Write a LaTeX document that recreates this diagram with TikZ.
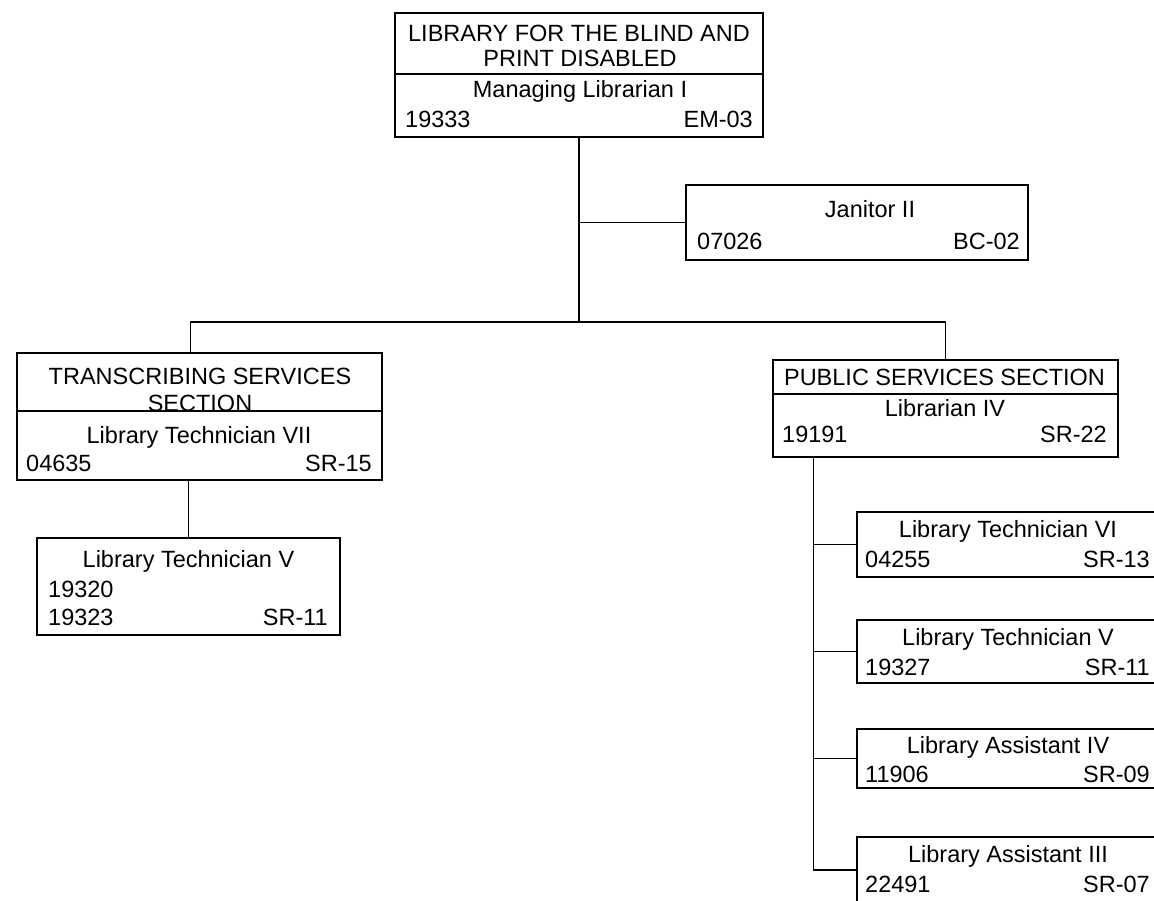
\documentclass[tikz,border=0pt]{standalone}
\usepackage{fontspec}
\setmainfont{Liberation Sans}
\begin{document}
\begin{tikzpicture}[x=1pt,y=-1pt,
  box/.style={draw,line width=1.8pt,inner sep=0pt},
  conn/.style={line width=1.8pt},
  txt/.style={inner sep=0pt,font=\fontsize{23.5}{28}\selectfont},
  ctr/.style={txt,anchor=base},
  lft/.style={txt,anchor=base west},
  rgt/.style={txt,anchor=base east}]
\useasboundingbox (0,0) rectangle (1154,901);
\clip (0,0) rectangle (1154,901);
% boxes
\node[box,minimum width=368pt,minimum height=124pt] (top) at (579,75) {};
\node[box,minimum width=342pt,minimum height=75pt] (jan) at (857,222.5) {};
\node[box,minimum width=365pt,minimum height=127pt] (tss) at (199.5,416.5) {};
\node[box,minimum width=303pt,minimum height=97pt] (ltv) at (188.5,586.5) {};
\node[box,minimum width=345pt,minimum height=97pt] (pss) at (945.5,408.5) {};
\node[box,minimum width=302pt,minimum height=65pt] (c1) at (1008,544.5) {};
\node[box,minimum width=302pt,minimum height=63pt] (c2) at (1008,651.5) {};
\node[box,minimum width=302pt,minimum height=59pt] (c3) at (1008,758.5) {};
\node[box,minimum width=302pt,minimum height=66pt] (c4) at (1008,870) {};
% dividers
\draw[conn] ([yshift=-62pt]top.north west) -- ([yshift=-62pt]top.north east);
\draw[conn] ([yshift=-59pt]tss.north west) -- ([yshift=-59pt]tss.north east);
\draw[conn] ([yshift=-35pt]pss.north west) -- ([yshift=-35pt]pss.north east);
% connectors
\coordinate (bus) at (579,322);
\draw[conn] (top.south) -- (bus);
\draw[conn] (top.south) |- (jan.west);
\draw[conn] ([xshift=-9pt]tss.north) |- (bus) -| (pss.north);
\draw[conn] (ltv.north) -- (ltv.north |- tss.south);
\coordinate (pv) at ([xshift=-132pt]pss.south);
\draw[conn] (pv) |- (c4.west);
\draw[conn] (pv) |- (c1.west);
\draw[conn] (pv) |- (c2.west);
\draw[conn] (pv) |- (c3.west);
% texts: top
\node[ctr] (t1) at (579,42) {LIBRARY FOR THE BLIND AND};
\node[ctr] (t2) at (580,67) {PRINT DISABLED};
\node[ctr] (t3) at (580,98) {Managing Librarian I};
\node[lft] (t4) at (405,128) {19333};
\node[rgt] (t5) at (753,128) {EM-03};
% janitor
\node[ctr] (j1) at (870,218) {Janitor II};
\node[lft] (j2) at (697,250) {07026};
\node[rgt] (j3) at (1020,250) {BC-02};
% tss
\node[ctr] (s1) at (200,384) {TRANSCRIBING SERVICES};
\node[ctr] (s2) at (200,411) {SECTION};
\node[ctr] (s3) at (199,443) {Library Technician VII};
\node[lft] (s4) at (26,471) {04635};
\node[rgt] (s5) at (372,471) {SR-15};
% ltv
\node[ctr] (l1) at (188.5,567) {Library Technician V};
\node[lft] (l2) at (48,597) {19320};
\node[lft] (l3) at (48,625) {19323};
\node[rgt] (l4) at (328,625) {SR-11};
% pss
\node[ctr] (p1) at (944.5,385) {PUBLIC SERVICES SECTION};
\node[ctr] (p2) at (945,416) {Librarian IV};
\node[lft] (p3) at (782,442) {19191};
\node[rgt] (p4) at (1107,442) {SR-22};
% children
\node[ctr] (a1) at (1008,537) {Library Technician VI};
\node[lft] (a2) at (865,567) {04255};
\node[rgt] (a3) at (1150,567) {SR-13};
\node[ctr] (b1) at (1008,645) {Library Technician V};
\node[lft] (b2) at (865,675) {19327};
\node[rgt] (b3) at (1150,675) {SR-11};
\node[ctr] (d1) at (1008,753) {Library Assistant IV};
\node[lft] (d2) at (865,782) {11906};
\node[rgt] (d3) at (1150,782) {SR-09};
\node[ctr] (e1) at (1008,862) {Library Assistant III};
\node[lft] (e2) at (865,892) {22491};
\node[rgt] (e3) at (1150,892) {SR-07};
\end{tikzpicture}
\end{document}
